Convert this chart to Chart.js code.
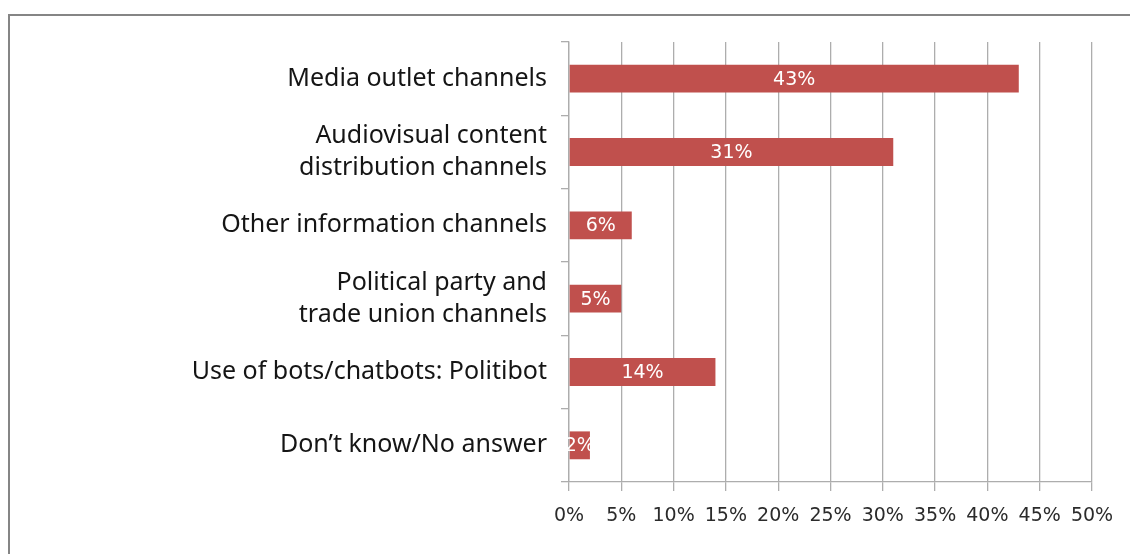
<!DOCTYPE html>
<html>
<head>
<meta charset="utf-8">
<script src="https://cdn.jsdelivr.net/npm/chart.js@4"></script>
<style>
  html, body { margin: 0; padding: 0; background: #fff; overflow: hidden; }
  #frame {
    position: absolute; left: 8px; top: 14px; width: 1200px; height: 600px;
    border-left: 2px solid #858585; border-top: 2px solid #858585;
  }
  #wrap { position: absolute; left: 0; top: 0; width: 1130px; height: 554px; }
</style>
</head>
<body>
<div id="frame"></div>
<div id="wrap"><canvas id="chart-channels"></canvas></div>
<script>
// Channels used, share of answers (%)
const categories = [
  'Media outlet channels',
  ['Audiovisual content', 'distribution channels'],
  'Other information channels',
  ['Political party and', 'trade union channels'],
  'Use of bots/chatbots: Politibot',
  'Don\u2019t know/No answer'
];
const shares = [43, 31, 6, 5, 14, 2];
const xTicks = [0, 5, 10, 15, 20, 25, 30, 35, 40, 45, 50];

const BAR = '#C0504D';
const GRID = '#adadad';

// white value labels centred inside each bar
const barLabels = {
  id: 'barLabels',
  afterDatasetsDraw(chart) {
    const { ctx } = chart;
    const meta = chart.getDatasetMeta(0);
    ctx.save();
    ctx.fillStyle = '#fff';
    ctx.font = '19px "DejaVu Sans"';
    ctx.textAlign = 'center';
    ctx.textBaseline = 'middle';
    meta.data.forEach((bar, i) => {
      ctx.fillText(shares[i] + '%', (bar.x + bar.base) / 2, bar.y + 1);
    });
    ctx.restore();
  }
};

new Chart(document.getElementById('chart-channels'), {
  type: 'bar',
  data: {
    labels: categories,
    datasets: [{
      data: shares,
      backgroundColor: BAR,
      borderWidth: 0,
      categoryPercentage: 1,
      barPercentage: 0.38
    }]
  },
  options: {
    indexAxis: 'y',
    responsive: true,
    maintainAspectRatio: false,
    animation: false,
    layout: { padding: { top: 42, right: 38, bottom: 0, left: 0 } },
    plugins: { legend: { display: false }, tooltip: { enabled: false } },
    scales: {
      x: {
        min: 0, max: 50,
        afterBuildTicks: s => { s.ticks = xTicks.map(v => ({ value: v })); },
        afterFit: s => { s.height = 72; },
        ticks: {
          callback: v => v + '%',
          color: '#2b2b2b',
          font: { family: 'DejaVu Sans', size: 19 },
          padding: 14,
          maxRotation: 0
        },
        grid: { color: GRID, lineWidth: 1.3, tickLength: 9, drawTicks: true },
        border: { color: GRID, width: 1.3 }
      },
      y: {
        afterFit: s => { s.width = 569; },
        ticks: {
          color: '#151515',
          font: { family: 'Noto Sans', size: 25, lineHeight: 1.28 },
          padding: 14
        },
        grid: { drawOnChartArea: false, color: GRID, lineWidth: 1.3, tickLength: 8 },
        border: { color: GRID, width: 1.3 }
      }
    }
  },
  plugins: [barLabels]
});
</script>
</body>
</html>
